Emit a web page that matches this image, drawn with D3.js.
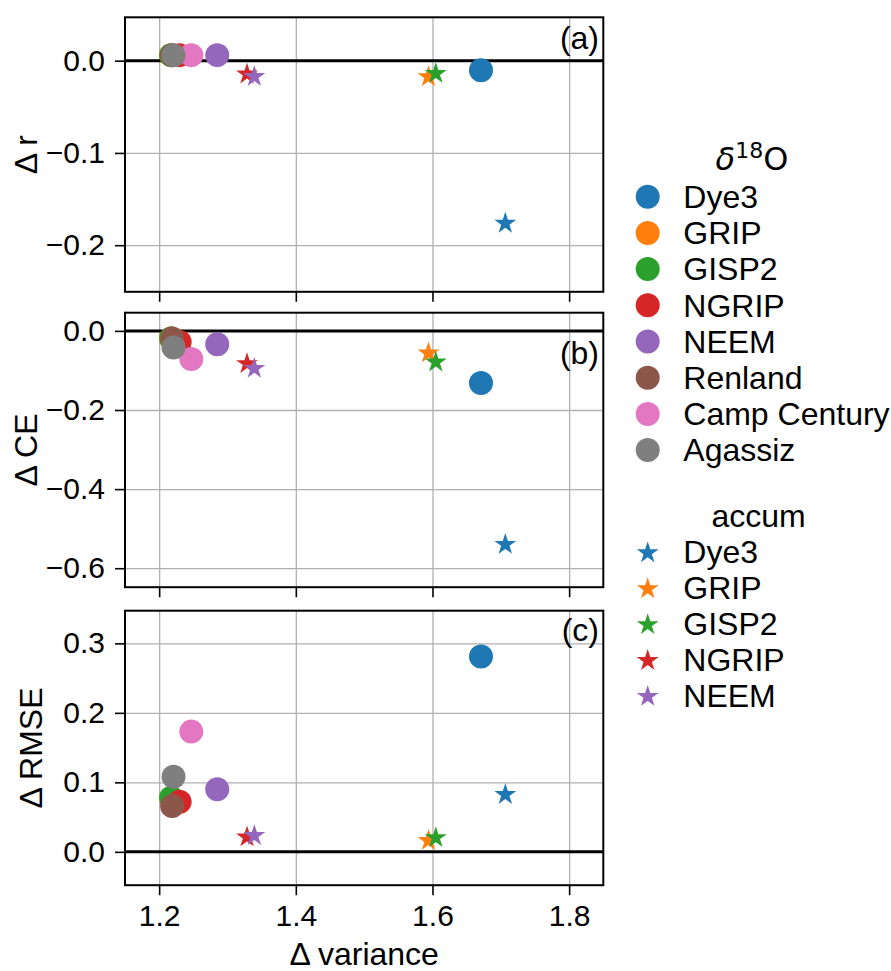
<!doctype html>
<html lang="en">
<head>
<meta charset="utf-8">
<title></title>
<script src="https://d3js.org/d3.v7.min.js"></script>
<style type="text/css">
body { margin:0; background:#fff; }
text { font-family:"Liberation Sans", Arial, sans-serif; fill:#000; }
</style>
</head>
<body>
<script type="text/javascript">

  // delta18O sites (circles)
  var isoSites  = ["Dye3","GRIP","GISP2","NGRIP","NEEM","Renland","Camp Century","Agassiz"];
  var isoColors = ["#1f77b4","#ff7f0e","#2ca02c","#d62728","#9467bd","#8c564b","#e377c2","#7f7f7f"];
  var isoVar  = [1.671, 1.2175, 1.2175, 1.230, 1.285, 1.219, 1.247, 1.221];
  var isoR    = [-0.0105, 0.006, 0.006, 0.006, 0.006, 0.006, 0.006, 0.006];
  var isoCE   = [-0.132, -0.019, -0.019, -0.028, -0.034, -0.019, -0.071, -0.042];
  var isoRMSE = [0.281, 0.077, 0.078, 0.072, 0.090, 0.066, 0.173, 0.108];

  // accumulation sites (stars)
  var accSites  = ["Dye3","GRIP","GISP2","NGRIP","NEEM"];
  var accColors = ["#1f77b4","#ff7f0e","#2ca02c","#d62728","#9467bd"];
  var accVar  = [1.7066, 1.5942, 1.6049, 1.3286, 1.3393];
  var accR    = [-0.175, -0.0163, -0.0127, -0.0133, -0.016];
  var accCE   = [-0.537, -0.053, -0.076, -0.080, -0.092];
  var accRMSE = [0.084, 0.018, 0.022, 0.023, 0.025];

  var xTicks    = [1.2, 1.4, 1.6, 1.8];
  var rTicks    = [0, -0.1, -0.2];
  var ceTicks   = [0, -0.2, -0.4, -0.6];
  var rmseTicks = [0, 0.1, 0.2, 0.3];

  var W = 891, H = 971;
  var left = 125, right = 603.3, ph = 274.5;
  var fs = 30, lfs = 32;

  var svg = d3.select("body").append("svg")
    .attr("width", W).attr("height", H)
    .style("background", "#fff");

  var xScale = d3.scaleLinear().domain([1.15, 1.85]).range([left, right]);

  var panels = [
    {top:17.3,  dom:[-0.2505, 0.047], ticks:rTicks,    label:"\u0394 r",    labX:37,   tag:"(a)", tagY:49,  iso:isoR,    acc:accR},
    {top:312.7, dom:[-0.648, 0.046],  ticks:ceTicks,   label:"\u0394 CE",   labX:37,   tag:"(b)", tagY:364, iso:isoCE,   acc:accCE},
    {top:610.7, dom:[-0.048, 0.347],  ticks:rmseTicks, label:"\u0394 RMSE", labX:41.5, tag:"(c)", tagY:641, iso:isoRMSE, acc:accRMSE}
  ];

  var star = d3.symbol().type(d3.symbolStar).size(148);

  panels.forEach(function(p, k){
    var yScale = d3.scaleLinear().domain(p.dom).range([p.top + ph, p.top]);
    var g = svg.append("g");

    // grid
    g.append("g")
      .attr("transform", "translate(0," + (p.top + ph) + ")")
      .call(d3.axisBottom(xScale).tickValues(xTicks).tickSize(-ph).tickFormat(""))
      .call(s => s.select(".domain").remove())
      .selectAll("line").attr("stroke", "#b0b0b0").attr("stroke-width", 1.3);
    g.append("g")
      .attr("transform", "translate(" + left + ",0)")
      .call(d3.axisLeft(yScale).tickValues(p.ticks).tickSize(-(right - left)).tickFormat(""))
      .call(s => s.select(".domain").remove())
      .selectAll("line").attr("stroke", "#b0b0b0").attr("stroke-width", 1.3);

    // zero line
    g.append("line")
      .attr("x1", left).attr("x2", right)
      .attr("y1", yScale(0)).attr("y2", yScale(0))
      .attr("stroke", "#000").attr("stroke-width", 3);

    // circles
    g.selectAll(".iso")
      .data(isoSites)
      .enter()
      .append("circle")
      .attr("cx", (d,i) => xScale(isoVar[i]))
      .attr("cy", (d,i) => yScale(p.iso[i]))
      .attr("r", 12)
      .attr("fill", (d,i) => isoColors[i]);

    // stars
    g.selectAll(".acc")
      .data(accSites)
      .enter()
      .append("path")
      .attr("d", star)
      .attr("transform", (d,i) => "translate(" + xScale(accVar[i]) + "," + (yScale(p.acc[i]) + 1.2) + ")")
      .attr("fill", (d,i) => accColors[i]);

    // frame
    g.append("rect")
      .attr("x", left).attr("y", p.top)
      .attr("width", right - left).attr("height", ph)
      .attr("fill", "none").attr("stroke", "#000").attr("stroke-width", 2);

    // y axis
    var ya = g.append("g")
      .attr("transform", "translate(" + left + ",0)")
      .call(d3.axisLeft(yScale).tickValues(p.ticks).tickSize(10).tickPadding(10).tickFormat(d3.format(".1f")));
    ya.select(".domain").remove();
    ya.selectAll("line").attr("stroke", "#000").attr("stroke-width", 1.6);
    ya.selectAll("text").attr("font-size", fs).style("font-family", "Liberation Sans, Arial, sans-serif");

    // x axis
    var xa = g.append("g")
      .attr("transform", "translate(0," + (p.top + ph) + ")")
      .call(d3.axisBottom(xScale).tickValues(xTicks).tickSize(10).tickPadding(10)
        .tickFormat(k == 2 ? d3.format(".1f") : ""));
    xa.select(".domain").remove();
    xa.selectAll("line").attr("stroke", "#000").attr("stroke-width", 1.6);
    xa.selectAll("text").attr("font-size", fs).style("font-family", "Liberation Sans, Arial, sans-serif");

    // y label
    g.append("text")
      .attr("transform", "translate(" + p.labX + "," + (p.top + ph / 2) + ") rotate(-90)")
      .attr("text-anchor", "middle")
      .attr("font-size", lfs)
      .text(p.label);

    // panel tag
    g.append("text")
      .attr("x", 599).attr("y", p.tagY)
      .attr("text-anchor", "end")
      .attr("font-size", lfs)
      .text(p.tag);
  });

  svg.append("text")
    .attr("x", (left + right) / 2).attr("y", 965)
    .attr("text-anchor", "middle")
    .attr("font-size", lfs)
    .text("\u0394 variance");

  // legend: delta18O
  var lt = svg.append("text")
    .attr("x", 752).attr("y", 170)
    .attr("text-anchor", "middle")
    .attr("font-size", lfs)
    .style("font-family", "DejaVu Sans, sans-serif");
  lt.append("tspan").attr("font-style", "italic").text("\u03b4");
  lt.append("tspan").attr("font-size", 22).attr("dy", -12).text("18");
  lt.append("tspan").attr("dy", 12).text("O");

  var isoLeg = svg.selectAll(".isoleg")
    .data(isoSites)
    .enter()
    .append("g")
    .attr("transform", (d,i) => "translate(647.7," + (196.7 + i * 36.2) + ")");
  isoLeg.append("circle").attr("r", 12).attr("fill", (d,i) => isoColors[i]);
  isoLeg.append("text").attr("x", 35.6).attr("dy", "0.35em").attr("font-size", lfs).text(d => d);

  // legend: accum
  svg.append("text")
    .attr("x", 758.5).attr("y", 527)
    .attr("text-anchor", "middle")
    .attr("font-size", lfs)
    .text("accum");

  var accLeg = svg.selectAll(".accleg")
    .data(accSites)
    .enter()
    .append("g")
    .attr("transform", (d,i) => "translate(647.7," + (551.7 + i * 35.9) + ")");
  accLeg.append("path").attr("d", star).attr("transform", "translate(0,1.2)").attr("fill", (d,i) => accColors[i]);
  accLeg.append("text").attr("x", 35.6).attr("dy", "0.35em").attr("font-size", lfs).text(d => d);

</script>
</body>
</html>
